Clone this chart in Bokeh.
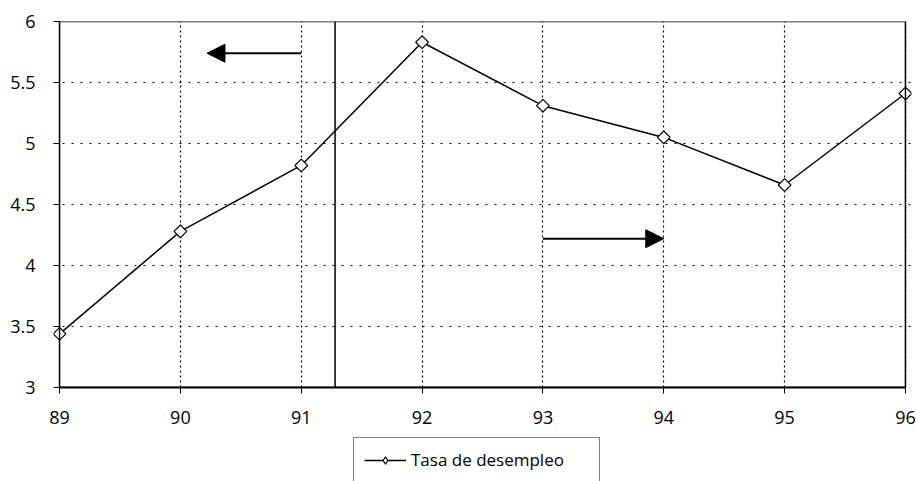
from bokeh.plotting import figure
from bokeh.layouts import column
from bokeh.models import (Range1d, FixedTicker, Legend, LegendItem, Span, Arrow,
                          NormalHead, BoxAnnotation)
from bokeh.embed import file_html
from bokeh.resources import INLINE

# Data
years = [89, 90, 91, 92, 93, 94, 95, 96]
tasa = [3.44, 4.28, 4.82, 5.83, 5.31, 5.05, 4.66, 5.41]
x_ticks = [89, 90, 91, 92, 93, 94, 95, 96]
y_ticks = [3, 3.5, 4, 4.5, 5, 5.5, 6]
divider_x = 91.28
arrow_left = dict(x_start=91.0, x_end=90.22, y=5.74)
arrow_right = dict(x_start=93.0, x_end=94.0, y=4.22)
series_name = "Tasa de desempleo"

FONT = "Open Sans"
X0, X1 = x_ticks[0], x_ticks[-1]
Y0, Y1 = y_ticks[0], y_ticks[-1]
PAD = 0.05  # a little room so the end markers are not clipped

p = figure(width=916, height=436, output_backend="svg", toolbar_location=None,
           x_range=Range1d(X0 - PAD, X1 + PAD), y_range=Range1d(Y0, Y1),
           min_border_left=53, min_border_right=5, min_border_top=21,
           min_border_bottom=49)
p.background_fill_color = "white"
p.border_fill_color = "white"
p.outline_line_color = None

# chart frame exactly between the first and last year
p.add_layout(BoxAnnotation(left=X0, right=X1, bottom=Y0, top=Y1,
                           fill_alpha=0, line_color="black", line_alpha=1,
                           line_width=1.5))

# axes
for axes in (p.xaxis, p.yaxis):
    axes.axis_line_color = "black"
    axes.axis_line_width = 2
    axes.major_tick_line_color = "black"
    axes.minor_tick_line_color = None
    axes.major_label_text_font = FONT
    axes.major_label_text_font_size = "18px"
    axes.major_label_text_color = "black"
p.xaxis.ticker = FixedTicker(ticks=x_ticks)
p.yaxis.ticker = FixedTicker(ticks=y_ticks)
p.xaxis.bounds = (X0, X1)
p.xaxis.major_tick_in = 0
p.xaxis.major_tick_out = 6
p.xaxis.major_label_standoff = 17
# y axis sits at the padded frame edge; its ticks reach in to the x=89 border
p.yaxis.axis_line_color = None
p.yaxis.major_tick_in = 6
p.yaxis.major_tick_out = 0
p.yaxis.major_label_standoff = 18
p.yaxis.major_label_overrides = {3: "3", 4: "4", 5: "5", 6: "6"}

# grids
p.xgrid.grid_line_color = "black"
p.xgrid.grid_line_dash = "2 3"
p.xgrid.grid_line_width = 1.2
p.ygrid.grid_line_color = "black"
p.ygrid.grid_line_dash = "2 7"
p.ygrid.grid_line_width = 1
p.ygrid.bounds = (X0, X1)

# divider
p.add_layout(Span(location=divider_x, dimension="height", line_color="black",
                  line_width=1.5))

# arrows
for a in (arrow_left, arrow_right):
    p.add_layout(Arrow(x_start=a["x_start"], y_start=a["y"], x_end=a["x_end"],
                       y_end=a["y"], line_color="black", line_width=2,
                       end=NormalHead(size=18, fill_color="black",
                                      line_color="black")))

# series
p.line(years, tasa, line_color="black", line_width=1.5)
p.scatter(years, tasa, marker="square", size=9, angle=0.785398,
          fill_color="white", line_color="black", line_width=1.2)

# legend strip below the chart
q = figure(width=916, height=45, output_backend="svg", toolbar_location=None,
           x_range=Range1d(0, 1), y_range=Range1d(0, 1), min_border=0)
q.axis.visible = False
q.grid.visible = False
q.outline_line_color = None
q.background_fill_color = "white"
q.border_fill_color = "white"
lq = q.line(years, tasa, line_color="black", line_width=1.5)
sq = q.scatter(years, tasa, marker="diamond", size=15, fill_color="white",
               line_color="black", line_width=1.2)
legend = Legend(items=[LegendItem(label=series_name, renderers=[lq, sq])],
                location=(300, -1), orientation="horizontal",
                glyph_width=42, glyph_height=18, label_text_font=FONT,
                label_text_font_size="17px", label_text_color="black",
                label_width=178,
                border_line_color="black", border_line_width=1.2,
                padding=10, margin=0, spacing=0, label_standoff=5)
q.add_layout(legend, "center")

layout = column(p, q, spacing=0)
open("out.html", "w").write(file_html(layout, INLINE))
